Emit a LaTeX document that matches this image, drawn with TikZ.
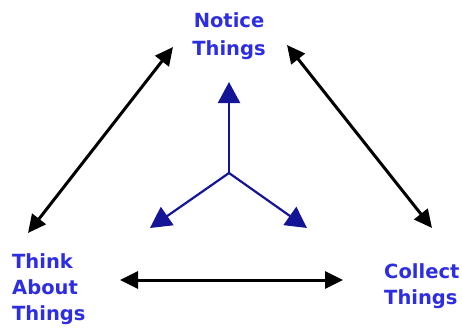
\documentclass[tikz,border=0pt]{standalone}
\usepackage{fontspec}
\setmainfont{DejaVu Sans}
\usepackage{xcolor}
\usepackage{tikz}
\usetikzlibrary{
  positioning,
  arrows.meta
}
\definecolor{labelblue}{RGB}{45,45,225}
\definecolor{hubblue}{RGB}{20,20,150}
\newcommand{\lblfont}{\fontsize{19.5pt}{26pt}\selectfont\bfseries}
\newcommand{\topfont}{\fontsize{19.5pt}{28.5pt}\selectfont\bfseries}

\begin{document}
\begin{tikzpicture}[x=1pt,y=-1pt,
  lbl/.style={text=labelblue,inner sep=0pt,font=\lblfont},
  cyclearrow/.style={line width=3pt,{Triangle[length=18pt,width=17pt]}-{Triangle[length=18pt,width=17pt]}},
  hubarrow/.style={draw=hubblue,line width=2.2pt,-{Triangle[length=21pt,width=22pt]}}
]
  \useasboundingbox (0,0) rectangle (462,327);

  \node[lbl,align=center,anchor=north,font=\topfont] (notice) at (229,12) {Notice\\Things};
  \node[lbl,align=left,anchor=north west] (think) at (12,253) {Think\\About\\Things};
  \node[lbl,align=left,anchor=north west] (collect) at (384,263) {Collect\\Things};

  \coordinate (tl top) at (173,47);
  \coordinate (tl bot) at (28,233);
  \coordinate (tr top) at (287,45);
  \coordinate (tr bot) at (432,228);
  \coordinate (bt left) at (120,280);
  \coordinate (bt right) at (343,280);

  \draw[cyclearrow] (tl top) -- (tl bot);
  \draw[cyclearrow] (tr top) -- (tr bot);
  \draw[cyclearrow] (bt left) -- (bt right);

  \coordinate (hub) at (229,173);
  \coordinate (hub n) at (229,82);
  \coordinate (hub sw) at (150,228);
  \coordinate (hub se) at (307,228);

  \draw[hubarrow] (hub) -- (hub n);
  \draw[hubarrow] (hub) -- (hub sw);
  \draw[hubarrow] (hub) -- (hub se);
\end{tikzpicture}
\end{document}
